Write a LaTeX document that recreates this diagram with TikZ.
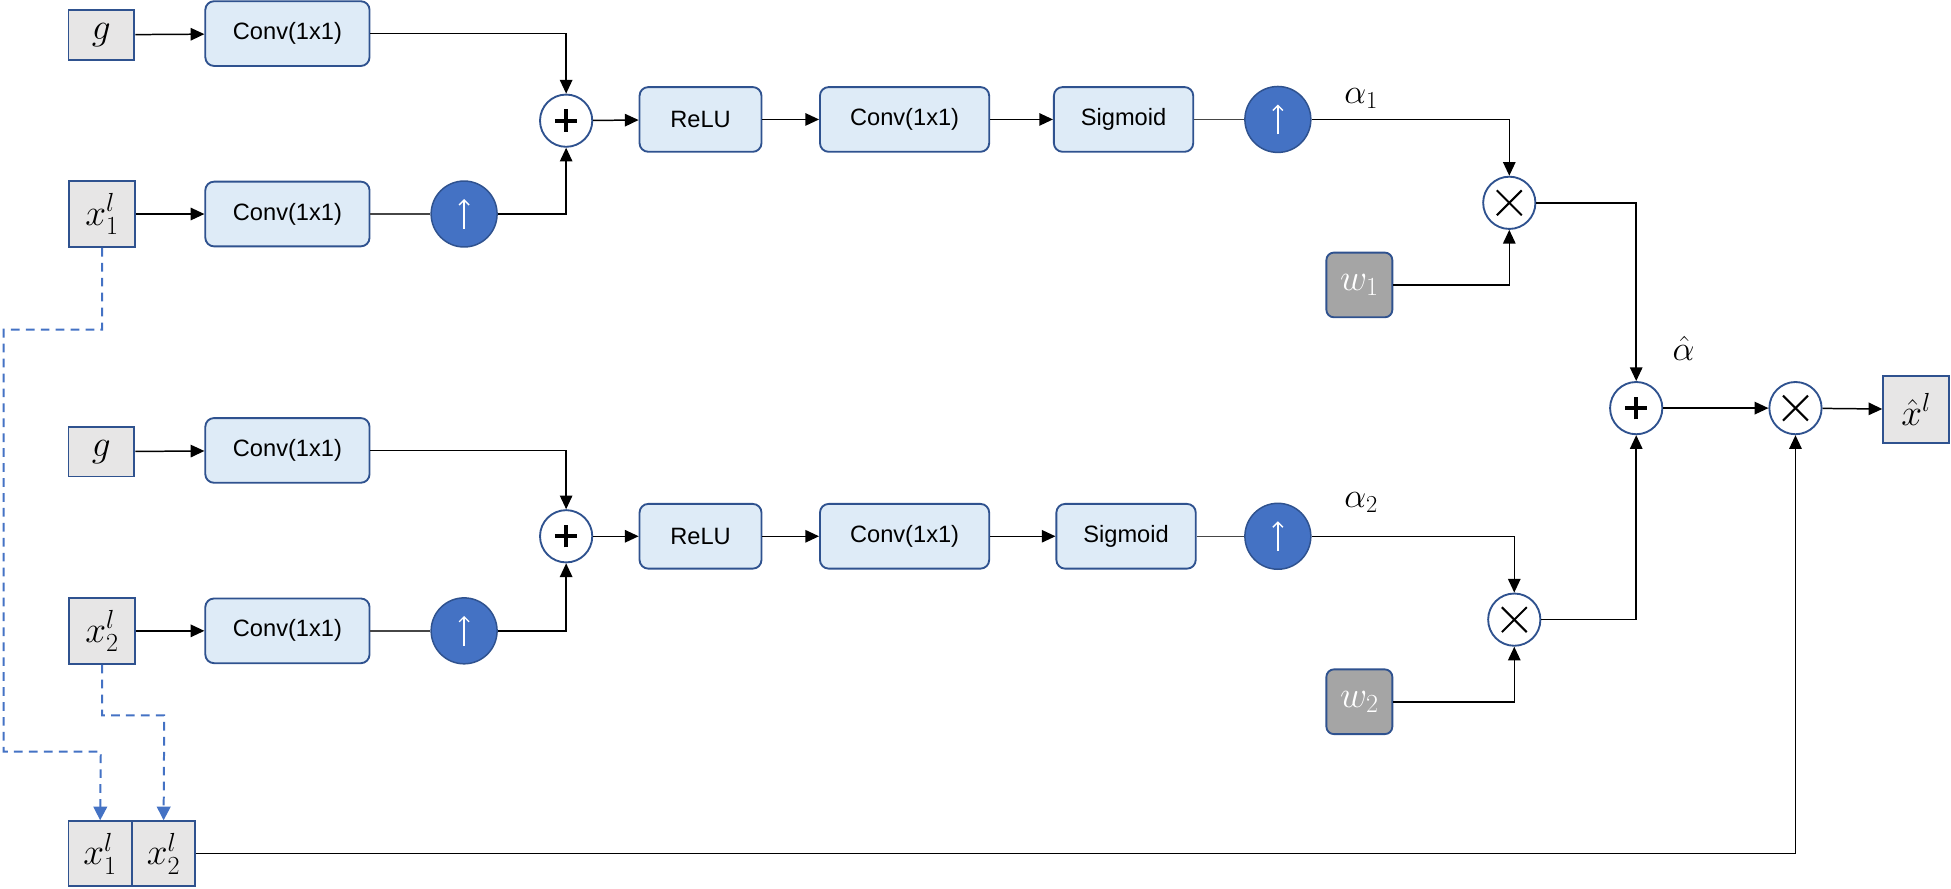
\RequirePackage{fix-cm}
\documentclass[tikz,border=0pt]{standalone}
\usepackage{fontspec}
\newfontfamily\arialf{Liberation Sans}
\usetikzlibrary{arrows.meta,calc}
\definecolor{bblue}{RGB}{47,82,143}
\definecolor{lblue}{RGB}{222,235,247}
\definecolor{mblue}{RGB}{68,114,196}
\definecolor{lgray}{RGB}{231,230,230}
\definecolor{dgray}{RGB}{165,165,165}
\definecolor{lgline}{RGB}{70,70,70}
\begin{document}
\begin{tikzpicture}[x=1pt,y=-1pt,
  convbox/.style={draw=bblue, fill=lblue, rounded corners=7pt, line width=1.5pt,
    minimum height=52pt, inner sep=0pt, font=\arialf\fontsize{19}{22}\selectfont},
  inbox/.style={draw=bblue, fill=lgray, line width=1.5pt, minimum width=53pt,
    inner sep=0pt, font=\fontsize{30}{34}\selectfont},
  wbox/.style={draw=bblue, fill=dgray, rounded corners=6pt, line width=1.5pt,
    minimum width=53pt, minimum height=52pt, inner sep=0pt, text=white,
    font=\fontsize{30}{34}\selectfont},
  upc/.style={circle, draw=bblue, fill=mblue, line width=1.2pt, minimum size=53pt,
    inner sep=0pt,
    path picture={\draw[white, line width=1.1pt, -{Straight Barb[length=4pt,width=8pt]}]
      ([yshift=-12pt]path picture bounding box.center) --
      ([yshift=12pt]path picture bounding box.center);}},
  opc/.style={circle, draw=bblue, fill=white, line width=1.5pt, minimum size=42pt, inner sep=0pt},
  plusc/.style={opc, path picture={
      \draw[black, line width=3.2pt] ([xshift=-9pt]path picture bounding box.center) --
        ([xshift=9pt]path picture bounding box.center);
      \draw[black, line width=3.2pt] ([yshift=-9pt]path picture bounding box.center) --
        ([yshift=9pt]path picture bounding box.center);}},
  timesc/.style={opc, path picture={
      \draw[black, line width=1.6pt] ([shift={(-10pt,-10pt)}]path picture bounding box.center) --
        ([shift={(10pt,10pt)}]path picture bounding box.center);
      \draw[black, line width=1.6pt] ([shift={(-10pt,10pt)}]path picture bounding box.center) --
        ([shift={(10pt,-10pt)}]path picture bounding box.center);}},
  arr/.style={line width=1.2pt, -{Triangle[length=11pt,width=10pt]}},
  ln/.style={line width=1.2pt, draw=lgline},
  dsh/.style={draw=mblue, line width=1.6pt, dash pattern=on 7pt off 5pt,
    -{Triangle[length=11pt,width=11pt]}},
  lbl/.style={font=\fontsize{28}{32}\selectfont, inner sep=0pt}
]
\useasboundingbox (0,0) rectangle (1568,714);

% ---------- branch 1 ----------
\node[inbox, minimum height=40pt] (g1) at (81.5,28) {$g$};
\node[convbox, minimum width=132pt] (cg1) at (231,27) {Conv(1x1)};
\node[inbox, minimum height=53pt] (x1) at (82,172) {$x_1^l$};
\node[convbox, minimum width=132pt] (cx1) at (231,172) {Conv(1x1)};
\node[upc] (u1) at (373,172) {};
\node[plusc] (p1) at (455,97) {};
\node[convbox, minimum width=98pt] (relu1) at (563,96) {ReLU};
\node[convbox, minimum width=136pt] (cc1) at (727,96) {Conv(1x1)};
\node[convbox, minimum width=112pt] (sig1) at (903,96) {Sigmoid};
\node[upc] (uu1) at (1027,96) {};
\node[lbl] (a1) at (1094,79) {$\alpha_1$};
\node[timesc] (t1) at (1213,163) {};
\node[wbox] (w1) at (1092.5,229) {$w_1$};

% ---------- branch 2 ----------
\node[inbox, minimum height=40pt] (g2) at (81.5,363) {$g$};
\node[convbox, minimum width=132pt] (cg2) at (231,362) {Conv(1x1)};
\node[inbox, minimum height=53pt] (x2) at (82,507) {$x_2^l$};
\node[convbox, minimum width=132pt] (cx2) at (231,507) {Conv(1x1)};
\node[upc] (u2) at (373,507) {};
\node[plusc] (p2) at (455,431) {};
\node[convbox, minimum width=98pt] (relu2) at (563,431) {ReLU};
\node[convbox, minimum width=136pt] (cc2) at (727,431) {Conv(1x1)};
\node[convbox, minimum width=112pt] (sig2) at (905,431) {Sigmoid};
\node[upc] (uu2) at (1027,431) {};
\node[lbl] (a2) at (1094,404) {$\alpha_2$};
\node[timesc] (t2) at (1217,498) {};
\node[wbox] (w2) at (1092.5,564) {$w_2$};

% ---------- merge ----------
\node[plusc] (p3) at (1315,328) {};
\node[lbl] (ah) at (1353,280) {$\hat{\alpha}$};
\node[timesc] (t3) at (1443,328) {};
\node[inbox, minimum height=54pt] (xh) at (1540,329) {$\hat{x}^l$};

\node[inbox, minimum width=51pt, minimum height=52pt] (cat1) at (80.5,686) {$x_1^l$};
\node[inbox, minimum width=51pt, minimum height=52pt] (cat2) at (131.5,686) {$x_2^l$};

% ---------- connectors branch 1 ----------
\draw[arr] (g1) -- (cg1);
\draw[arr] (x1) -- (cx1);
\draw[ln] (cx1) -- (u1);
\draw[arr] (cg1.east) -| (p1.north);
\draw[arr] (u1.east) -| (p1.south);
\draw[arr] (p1) -- (relu1);
\draw[arr] (relu1) -- (cc1);
\draw[arr] (cc1) -- (sig1);
\draw[ln] (sig1) -- (uu1);
\draw[arr] (uu1.east) -| (t1.north);
\draw[arr] (w1.east) -| (t1.south);

% ---------- connectors branch 2 ----------
\draw[arr] (g2) -- (cg2);
\draw[arr] (x2) -- (cx2);
\draw[ln] (cx2) -- (u2);
\draw[arr] (cg2.east) -| (p2.north);
\draw[arr] (u2.east) -| (p2.south);
\draw[arr] (p2) -- (relu2);
\draw[arr] (relu2) -- (cc2);
\draw[arr] (cc2) -- (sig2);
\draw[ln] (sig2) -- (uu2);
\draw[arr] (uu2.east) -| (t2.north);
\draw[arr] (w2.east) -| (t2.south);

% ---------- merge connectors ----------
\draw[arr] (t1.east) -| (p3.north);
\draw[arr] (t2.east) -| (p3.south);
\draw[arr] (p3) -- (t3);
\draw[arr] (t3) -- (xh);
\draw[arr] (cat2.east) -| (t3.south);

% ---------- dashed routes ----------
\coordinate (d1a) at (3,265);
\coordinate (d1b) at (81,604);
\coordinate (d2a) at (132,575);
\draw[dsh] (x1.south) |- (d1a) |- (d1b) -- (cat1.north);
\draw[dsh] (x2.south) |- (d2a) -- (cat2.north);
\end{tikzpicture}
\end{document}
